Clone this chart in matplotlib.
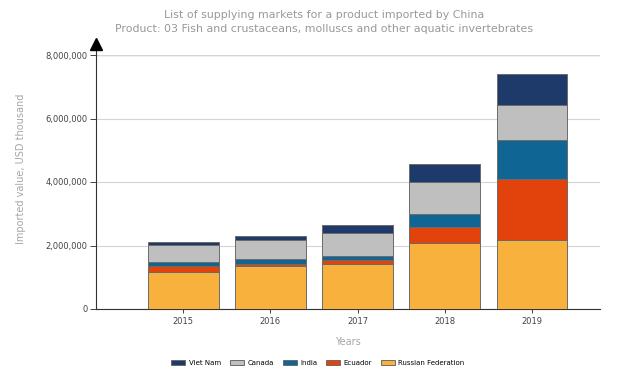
import numpy as np
import matplotlib.pyplot as plt
from matplotlib.ticker import FuncFormatter

# %% data (USD thousand)
years = ['2015', '2016', '2017', '2018', '2019']
russia = [1175000, 1345000, 1420000, 2090000, 2170000]
ecuador = [170000, 80000, 115000, 500000, 1910000]
india = [135000, 140000, 135000, 410000, 1230000]
canada = [525000, 600000, 725000, 1000000, 1100000]
viet_nam = [95000, 125000, 240000, 557000, 990000]

series = [
    ('Russian Federation', russia, '#f9b13e'),
    ('Ecuador', ecuador, '#e2430d'),
    ('India', india, '#0f6695'),
    ('Canada', canada, '#bfbfbf'),
    ('Viet Nam', viet_nam, '#1d3a6a'),
]

# %% plot
fig = plt.figure(figsize=(6.4, 3.8), dpi=100)
ax = fig.add_axes([96 / 640, 1 - 309 / 380, 504 / 640, 254 / 380])

x = np.arange(len(years))
bottom = np.zeros(len(years))
bars = {}
for name, vals, col in series:
    bars[name] = ax.bar(x, vals, 0.81, bottom=bottom, color=col,
                        edgecolor='#6b6b6b', linewidth=0.7, zorder=3)
    bottom += np.array(vals)

ax.set_xlim(-1.0, 4.78)
ax.set_ylim(0, 8000000)
ax.set_yticks([0, 2000000, 4000000, 6000000, 8000000])
ax.yaxis.set_major_formatter(FuncFormatter(lambda v, p: f'{int(v):,}'))
ax.set_xticks(x)
ax.set_xticklabels(years)
ax.tick_params(labelsize=6, colors='#444444', length=4, width=0.7, pad=2)
ax.tick_params(axis='x', length=3, pad=3)

ax.grid(axis='y', color='#d4d4d4', linewidth=0.8, zorder=0)
for s in ['top', 'right']:
    ax.spines[s].set_visible(False)
for s in ['left', 'bottom']:
    ax.spines[s].set_color('#333333')
    ax.spines[s].set_linewidth(0.8)
ax.axhline(8000000, color='#8aa0b8', linewidth=0.9, zorder=1)

# arrow head on top of the y axis
ax.plot([0, 0], [1.0, 1.03], color='#333333', linewidth=0.8,
        transform=ax.transAxes, clip_on=False)
ax.plot([0], [1.045], marker='^', markersize=9, color='black',
        transform=ax.transAxes, clip_on=False, zorder=5)

ax.set_ylabel('Imported value, USD thousand', color='#a6a6a6', fontsize=7)
ax.yaxis.set_label_coords(-0.138, 0.55)
ax.set_xlabel('Years', color='#a6a6a6', fontsize=7, labelpad=8)

fig.text(0.506, 0.961, 'List of supplying markets for a product imported by China',
         ha='center', va='center', color='#999999', fontsize=7.9)
fig.text(0.506, 0.924, 'Product: 03 Fish and crustaceans, molluscs and other aquatic invertebrates',
         ha='center', va='center', color='#999999', fontsize=7.9)

order = ['Viet Nam', 'Canada', 'India', 'Ecuador', 'Russian Federation']
fig.legend([bars[n] for n in order], order, loc='center', ncol=5,
           bbox_to_anchor=(0.497, 0.045), frameon=False, fontsize=5,
           handlelength=2.0, handleheight=0.7, columnspacing=1.3, handletextpad=0.5)

fig.savefig('out.png', dpi=100)
